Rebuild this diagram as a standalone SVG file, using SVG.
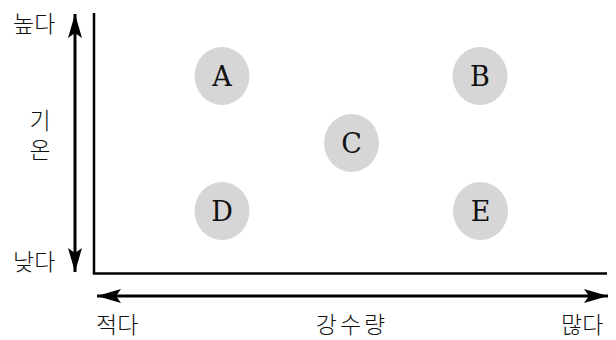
<svg xmlns="http://www.w3.org/2000/svg" width="616" height="340" viewBox="0 0 616 340">
<style>
.lbl{font-family:"Noto Sans CJK KR","Noto Sans",sans-serif;font-size:23px;font-weight:300;fill:#111}
.node ellipse{fill:#d6d6d6}
.node text{font-family:"DejaVu Serif","Liberation Serif",serif;font-size:27px;fill:#111;text-anchor:middle}
.ax{stroke:#000;stroke-width:2.5;fill:none}
.arr{stroke:#000;stroke-width:3;fill:none}
</style>
<defs>
<marker id="ah" viewBox="0 0 24 14" refX="24" refY="7" markerWidth="24" markerHeight="14" markerUnits="userSpaceOnUse" orient="auto-start-reverse">
<path d="M0,0 L24,7 L0,14 L5,7 Z" fill="#000"/>
</marker>
</defs>
<rect width="616" height="340" fill="#fff"/>
<g id="connectors">
<polyline class="ax" points="94,13 94,273.5 607,273.5"/>
<line class="arr" x1="75" y1="14" x2="75" y2="272" marker-start="url(#ah)" marker-end="url(#ah)"/>
<line class="arr" x1="97" y1="296" x2="608" y2="296" marker-start="url(#ah)" marker-end="url(#ah)"/>
</g>
<g id="labels">
<text class="lbl" x="40" y="109" writing-mode="vertical-rl" letter-spacing="6">기온</text>
<text class="lbl" x="13" y="32">높다</text>
<text class="lbl" x="13" y="270">낮다</text>
<text class="lbl" x="96" y="333">적다</text>
<text class="lbl" x="352" y="333" text-anchor="middle" letter-spacing="3">강수량</text>
<text class="lbl" x="561" y="333">많다</text>
</g>
<g id="A" class="node"><ellipse cx="222" cy="76" rx="27.5" ry="29"/><text x="222" y="86">A</text></g>
<g id="B" class="node"><ellipse cx="480" cy="76" rx="27.5" ry="29"/><text x="480" y="86">B</text></g>
<g id="C" class="node"><ellipse cx="351.5" cy="143" rx="27.5" ry="29"/><text x="351.5" y="153">C</text></g>
<g id="D" class="node"><ellipse cx="222" cy="211" rx="27.5" ry="29"/><text x="222" y="221">D</text></g>
<g id="E" class="node"><ellipse cx="480.5" cy="211" rx="27.5" ry="29"/><text x="480.5" y="221">E</text></g>
</svg>
